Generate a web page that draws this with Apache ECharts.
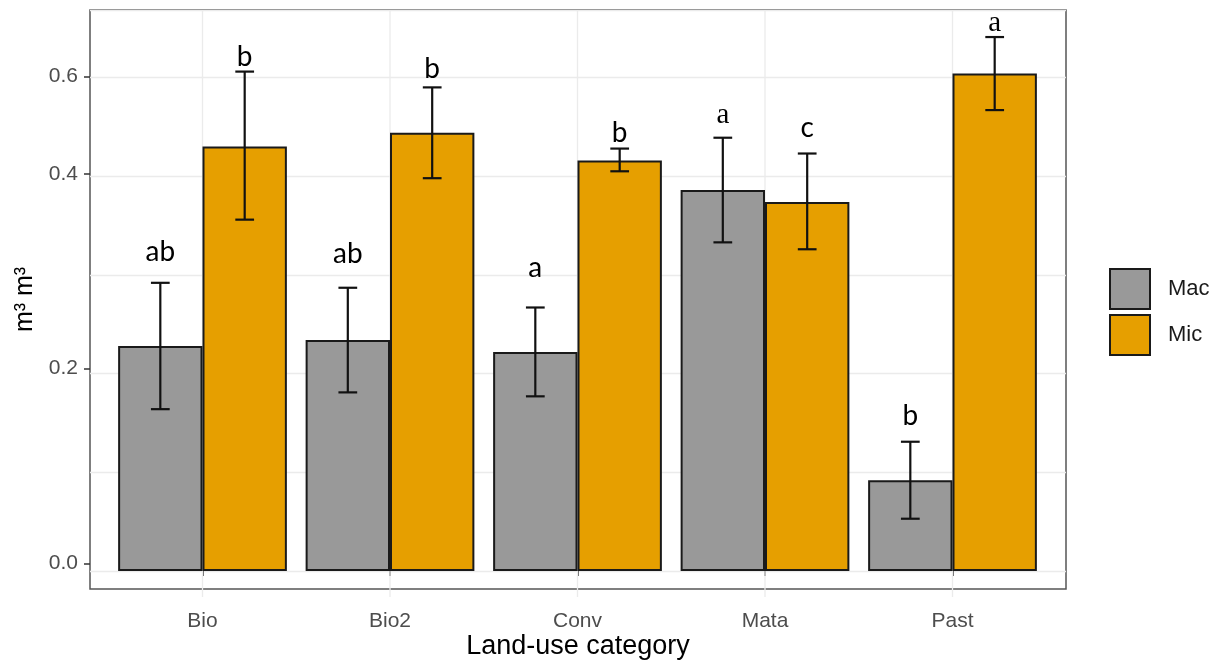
<!DOCTYPE html>
<html>
<head>
<meta charset="utf-8">
<script src="https://cdn.jsdelivr.net/npm/echarts@6/dist/echarts.min.js"></script>
<style>
html,body{margin:0;padding:0;background:#fff;}
#chart{width:1221px;height:665px;}
</style>
</head>
<body>
<div id="chart"></div>
<script>
// ---- data ----
const categories = ['Bio', 'Bio2', 'Conv', 'Mata', 'Past'];
const seriesNames = ['Mac', 'Mic'];
const macMean = [0.228, 0.234, 0.222, 0.386, 0.092];
const macLow  = [0.164, 0.181, 0.177, 0.333, 0.053];
const macHigh = [0.292, 0.287, 0.267, 0.439, 0.131];
const micMean = [0.430, 0.444, 0.416, 0.374, 0.504];
const micLow  = [0.356, 0.398, 0.405, 0.326, 0.467];
const micHigh = [0.506, 0.490, 0.428, 0.423, 0.541];
const macLetters = ['ab', 'ab', 'a', 'a', 'b'];
const micLetters = ['b', 'b', 'b', 'c', 'a'];
const macLetterY = [0.323, 0.321, 0.307, 0.462, 0.157];
const micLetterY = [0.521, 0.509, 0.444, 0.449, 0.555];
const yTickValues = [0, 0.2, 0.4, 0.5];
const yTickLabels = ['0.0', '0.2', '0.4', '0.6'];
const yMin = -0.0263;
const yMax = 0.5684;

// ---- styles ----
const COL_MAC = '#999999';
const COL_MIC = '#E69F00';
const EDGE = '#1a1a1a';
const GRIDC = '#ebebeb';
const serifLetter = { 'Mata-Mac': true, 'Past-Mic': true };

const chart = echarts.init(document.getElementById('chart'), null, { renderer: 'canvas' });

const errData = [];
categories.forEach((c, i) => {
  errData.push([i, macLow[i], macHigh[i], -1]);
  errData.push([i, micLow[i], micHigh[i], 1]);
});
const letterItems = [];
categories.forEach((c, i) => {
  letterItems.push({ i: i, y: macLetterY[i], t: macLetters[i], s: -1, key: c + '-Mac' });
  letterItems.push({ i: i, y: micLetterY[i], t: micLetters[i], s: 1, key: c + '-Mic' });
});

const option = {
  animation: false,
  backgroundColor: '#ffffff',
  grid: [
    { left: 90, top: 10, width: 976, height: 587, show: true, borderColor: '#555555', borderWidth: 1.5, backgroundColor: 'transparent', containLabel: false },
    { left: 90, top: 10, width: 976, height: 561, containLabel: false },
    { left: 108.75, top: 10, width: 937.5, height: 587, containLabel: false }
  ],
  xAxis: [
    { gridIndex: 0, type: 'value', min: 0, max: 1,
      axisLine: { show: false }, axisTick: { show: false }, axisLabel: { show: false }, splitLine: { show: false },
      name: 'Land-use category', nameLocation: 'middle', nameGap: 44,
      nameTextStyle: { fontSize: 27, color: '#000', fontFamily: 'Liberation Sans' } },
    { gridIndex: 1, type: 'value', min: 0, max: 1, show: false },
    { gridIndex: 2, type: 'category', data: categories,
      axisLine: { show: false },
      axisTick: { show: true, alignWithLabel: true, length: 5, lineStyle: { color: '#333', width: 1.5 } },
      axisLabel: { fontSize: 21, color: '#4d4d4d', margin: 14, fontFamily: 'Liberation Sans' },
      splitLine: { show: false } }
  ],
  yAxis: [
    { gridIndex: 0, type: 'value', min: yMin, max: yMax,
      axisLine: { show: false },
      axisTick: { show: true, length: 6, customValues: yTickValues, lineStyle: { color: '#333', width: 1.5 } },
      axisLabel: { show: true, customValues: yTickValues, fontSize: 21, color: '#4d4d4d', margin: 12, fontFamily: 'Liberation Sans',
        padding: [0, 0, 8, 0],
        formatter: function (v) {
          for (let k = 0; k < yTickValues.length; k++) {
            if (Math.abs(yTickValues[k] - v) < 1e-6) return yTickLabels[k];
          }
          return '';
        } },
      splitLine: { show: false },
      name: 'm³ m³', nameLocation: 'middle', nameGap: 50,
      nameTextStyle: { fontSize: 25, color: '#000', fontFamily: 'Liberation Sans' } },
    { gridIndex: 1, type: 'value', min: 0, max: yMax, interval: 0.1,
      axisLine: { show: false }, axisTick: { show: false }, axisLabel: { show: false },
      splitLine: { show: true, lineStyle: { color: GRIDC, width: 1.3 } } },
    { gridIndex: 2, type: 'value', min: yMin, max: yMax, show: false }
  ],
  legend: {
    data: seriesNames,
    orient: 'vertical',
    left: 1104, top: 263,
    itemWidth: 40, itemHeight: 40, itemGap: 4,
    icon: 'rect',
    itemStyle: { borderColor: EDGE, borderWidth: 2 },
    textStyle: { fontSize: 22, color: '#1a1a1a', fontFamily: 'Liberation Sans', padding: [0, 0, 0, 13] }
  },
  series: [
    { // vertical grid lines at category centres
      type: 'custom', xAxisIndex: 2, yAxisIndex: 2, z: 1, silent: true,
      data: categories.map((c, i) => [i, 0]),
      encode: { x: 0, y: 1 },
      renderItem: function (params, api) {
        const p = api.coord([api.value(0), 0]);
        const cs = params.coordSys;
        return { type: 'line', shape: { x1: p[0], y1: cs.y, x2: p[0], y2: cs.y + cs.height },
          style: { stroke: GRIDC, lineWidth: 1.3 } };
      }
    },
    { name: 'Mac', type: 'bar', xAxisIndex: 2, yAxisIndex: 2, data: macMean, z: 2,
      barGap: '0%', barCategoryGap: '10%',
      itemStyle: { color: COL_MAC, borderColor: EDGE, borderWidth: 2 } },
    { name: 'Mic', type: 'bar', xAxisIndex: 2, yAxisIndex: 2, data: micMean, z: 2,
      barGap: '0%', barCategoryGap: '10%',
      itemStyle: { color: COL_MIC, borderColor: EDGE, borderWidth: 2 } },
    { // error bars
      type: 'custom', xAxisIndex: 2, yAxisIndex: 2, z: 3, silent: true,
      data: errData,
      encode: { x: 0, y: [1, 2] },
      renderItem: function (params, api) {
        const i = api.value(0);
        const lo = api.coord([i, api.value(1)]);
        const hi = api.coord([i, api.value(2)]);
        const band = api.size([1, 0])[0];
        const x = lo[0] + api.value(3) * band * 0.225;
        const hw = band * 0.05;
        const st = { stroke: '#111111', lineWidth: 2.2 };
        return { type: 'group', children: [
          { type: 'line', shape: { x1: x, y1: lo[1], x2: x, y2: hi[1] }, style: st },
          { type: 'line', shape: { x1: x - hw, y1: lo[1], x2: x + hw, y2: lo[1] }, style: st },
          { type: 'line', shape: { x1: x - hw, y1: hi[1], x2: x + hw, y2: hi[1] }, style: st }
        ] };
      }
    },
    { // significance letters
      type: 'custom', xAxisIndex: 2, yAxisIndex: 2, z: 4, silent: true,
      data: letterItems.map(d => [d.i, d.y]),
      encode: { x: 0, y: 1 },
      renderItem: function (params, api) {
        const d = letterItems[params.dataIndex];
        const p = api.coord([d.i, d.y]);
        const band = api.size([1, 0])[0];
        const x = p[0] + d.s * band * 0.225;
        const serif = !!serifLetter[d.key];
        return { type: 'text', x: x, y: p[1],
          style: { text: d.t, fill: '#000',
            font: serif ? '29px "Liberation Serif"' : '28px Lato',
            align: 'center', verticalAlign: 'middle' } };
      }
    }
  ]
};
chart.setOption(option);
</script>
</body>
</html>
